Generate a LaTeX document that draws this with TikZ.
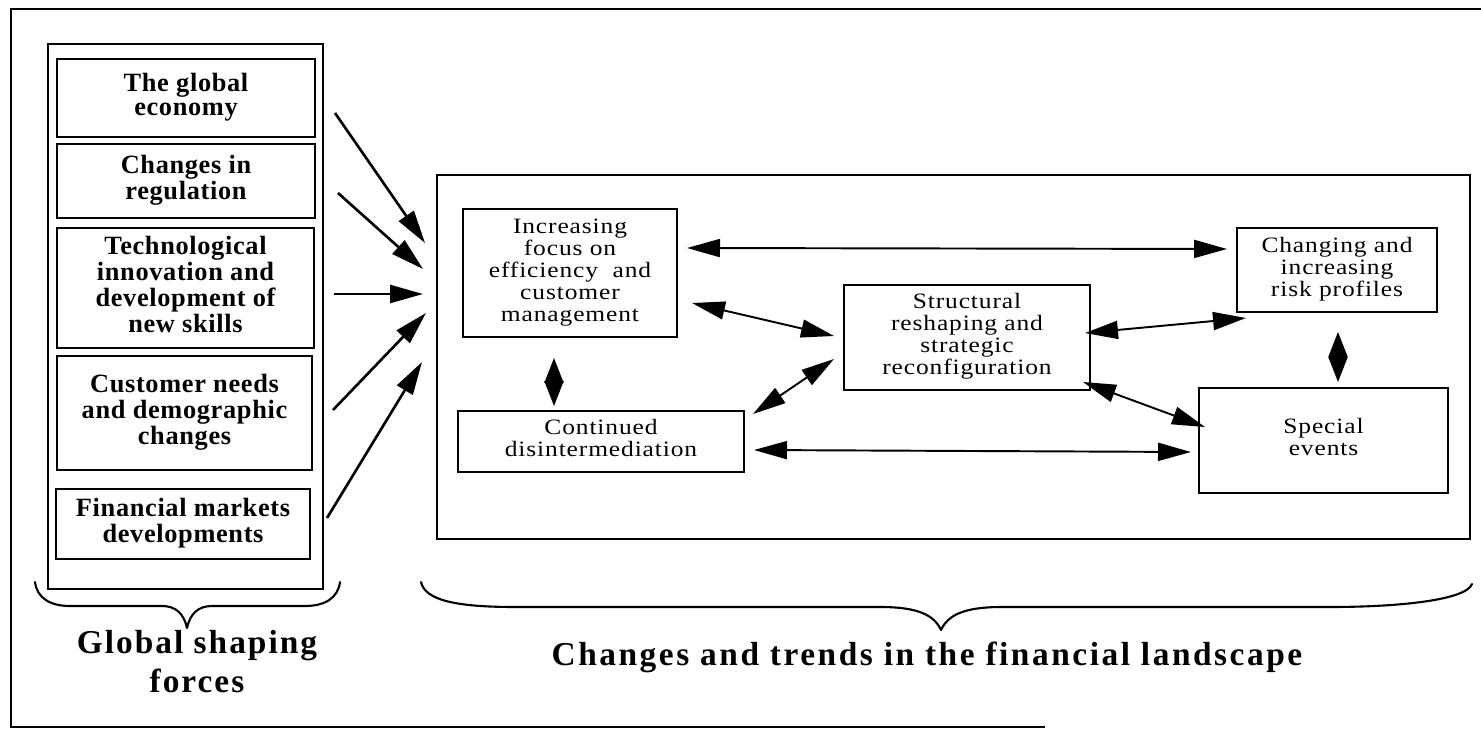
\documentclass[tikz,border=0pt]{standalone}
\usepackage{fontspec}
\setmainfont{Liberation Serif}
\newfontfamily\forcefont{Liberation Serif}[LetterSpace=2.5]
\newfontfamily\trendfont{Liberation Serif}[FakeStretch=1.16, LetterSpace=4]
\newfontfamily\headfont{Liberation Serif}[LetterSpace=6]
\newfontfamily\wideheadfont{Liberation Serif}[LetterSpace=7.6]
\usetikzlibrary{arrows.meta}
% centred stack of lines whose spacing follows the current \baselineskip
\newcommand{\boxlines}[1]{\begin{tabular}{@{}c@{}}#1\end{tabular}}
\tikzset{
  size/.style 2 args={minimum width=#1*0.02cm, minimum height=#2*0.02cm},
  panel/.style={draw, line width=1.1pt, inner sep=0pt},
  force/.style={draw, line width=1.2pt, inner sep=0pt,
    font=\forcefont\bfseries\fontsize{15}{13.9}\selectfont},
  trend/.style={draw, line width=1.1pt, inner sep=0pt,
    font=\trendfont\fontsize{12.5}{12.5}\selectfont},
  heading/.style={inner sep=0pt,
    font=\headfont\bfseries\fontsize{19}{22}\selectfont},
  tip/.tip={Triangle[length=0.66cm,width=0.36cm]},
  smalltip/.tip={Triangle[length=0.5cm,width=0.38cm]},
  push/.style={line width=1.5pt, -tip},
  link/.style={line width=1.1pt, tip-tip},
  shortlink/.style={line width=1.1pt, smalltip-smalltip},
  brace/.style={line width=1.2pt, line cap=round, line join=round}
}
\begin{document}
\begin{tikzpicture}[x=0.02cm, y=-0.02cm]
\useasboundingbox (0,0) rectangle (1481,729);

% surrounding rules
\draw[line width=1.1pt] (1481,9) -- (11,9) -- (11,727) -- (1045,727);

% global shaping forces
\node[panel, size={275}{545}] (forces) at (185.5,316.5) {};
\node[force, size={258}{78}]  (g1) at (186,98)    {\boxlines{The global\\economy}};
\node[force, size={258}{74}]  (g2) at (186,181)   {\boxlines{Changes in\\regulation}};
\node[force, size={257}{120}] (g3) at (185.5,288) {\boxlines{Technological\\innovation and\\development of\\new skills}};
\node[force, size={255}{114}] (g4) at (184.5,413) {\boxlines{Customer needs\\and demographic\\changes}};
\node[force, size={254}{70}]  (g5) at (183,524)   {\boxlines{Financial markets\\developments}};

% changes and trends in the financial landscape
\node[panel, size={1033}{364}] (landscape) at (953.5,357) {};
\node[trend, size={214}{128}] (inc)    at (570,273)      {\boxlines{Increasing\\focus on\\efficiency~ and\\customer\\management}};
\node[trend, size={286}{61}]  (cont)   at (601,441.5)    {\boxlines{Continued\\disintermediation}};
\node[trend, size={246}{105}] (struct) at (967,337.5)    {\boxlines{Structural\\reshaping and\\strategic\\reconfiguration}};
\node[trend, size={200}{84}]  (risk)   at (1337,270)     {\boxlines{Changing and\\increasing\\risk profiles}};
\node[trend, size={249}{105}] (spec)   at (1323.5,440.5) {\boxlines{Special\\events}};

% arrows from the forces into the landscape
\coordinate (s1) at (335,113); \coordinate (e1) at (425,243);
\coordinate (s2) at (338,193); \coordinate (e2) at (423,269);
\coordinate (s3) at (334,294); \coordinate (e3) at (423,294);
\coordinate (s4) at (333,410); \coordinate (e4) at (426,313);
\coordinate (s5) at (327,518); \coordinate (e5) at (422,362);
\draw[push] (s1) -- (e1);
\draw[push] (s2) -- (e2);
\draw[push] (s3) -- (e3);
\draw[push] (s4) -- (e4);
\draw[push] (s5) -- (e5);

% two-way links between the trends
\coordinate (inc-r)   at (687,248);  \coordinate (risk-l)  at (1227,249);
\coordinate (inc-s)   at (692,303);  \coordinate (struct-i) at (834,336);
\coordinate (inc-b)   at (554,358);  \coordinate (cont-t)  at (554,406);
\coordinate (cont-s)  at (753,414);  \coordinate (struct-c) at (834,359);
\coordinate (cont-r)  at (754,450);  \coordinate (spec-l)  at (1191,452);
\coordinate (struct-r) at (1085,333); \coordinate (risk-s) at (1246,318);
\coordinate (struct-b) at (1083,382); \coordinate (spec-s) at (1205,427);
\coordinate (risk-b)  at (1338,332); \coordinate (spec-t)  at (1338,382);
\draw[link] (inc-r) -- (risk-l);
\draw[link] (inc-s) -- (struct-i);
\draw[shortlink] (inc-b) -- (cont-t);
\draw[link] (cont-s) -- (struct-c);
\draw[link] (cont-r) -- (spec-l);
\draw[link] (struct-r) -- (risk-s);
\draw[link] (struct-b) -- (spec-s);
\draw[shortlink] (risk-b) -- (spec-t);

% braces
\draw[brace] (35,582) .. controls (37,598) and (50,606) .. (70,606) -- (162,606)
  .. controls (176,606) and (184,614) .. (187,628)
  .. controls (190,614) and (198,606) .. (212,606) -- (305,606)
  .. controls (325,606) and (338,598) .. (340,582);
\draw[brace] (421,582) .. controls (425,600) and (455,607) .. (515,607) -- (880,607)
  .. controls (918,607) and (934,615) .. (941,630)
  .. controls (948,615) and (964,607) .. (1002,607) -- (1330,607)
  .. controls (1400,607) and (1466,600) .. (1472,584);

% headings
\node[heading] (gsf) at (197,665) {\boxlines{Global shaping\\forces}};
\node[heading, font=\wideheadfont\bfseries\fontsize{19}{22}\selectfont, anchor=base] (ctf) at (927,665)
  {Changes and trends in the financial landscape};
\end{tikzpicture}
\end{document}
